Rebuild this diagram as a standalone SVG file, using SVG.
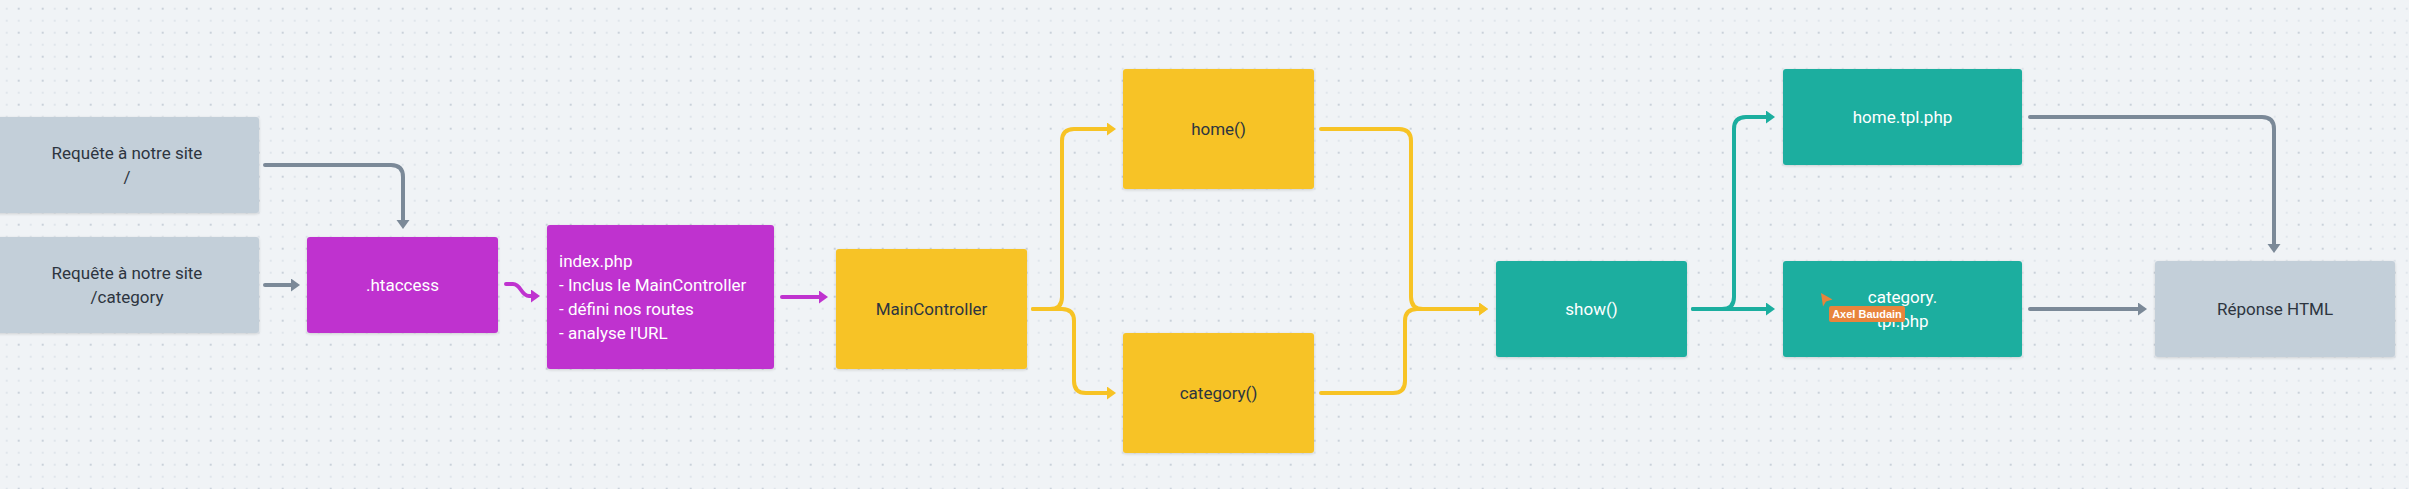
<svg xmlns="http://www.w3.org/2000/svg" width="2409" height="489" viewBox="0 0 2409 489">
<style>
.node{filter:url(#sh)}
.gray{fill:#c3cfd9}
.mag{fill:#bf33cf}
.yel{fill:#f7c325}
.teal{fill:#1bae9f}
text{font-family:Roboto,"Liberation Sans",Arial,sans-serif;font-size:17px}
.dk{fill:#2d3540}
.wt{fill:#ffffff}
.c{text-anchor:middle}
.ln{fill:none;stroke-width:4;stroke-linecap:round;stroke-linejoin:round}
.lg{stroke:#7b8998}
.lm{stroke:#bf33cf}
.ly{stroke:#f7c325}
.lt{stroke:#1bae9f}
</style>
<defs>
<pattern id="dots" patternUnits="userSpaceOnUse" width="24" height="24">
<rect x="5.7" y="7.7" width="2" height="2" fill="#dfe5eb"/>
<rect x="17.7" y="7.7" width="2" height="2" fill="#c9d1da"/>
<rect x="5.7" y="19.7" width="2" height="2" fill="#dfe5eb"/>
<rect x="17.7" y="19.7" width="2" height="2" fill="#dfe5eb"/>
</pattern>
<filter id="sh" x="-10%" y="-10%" width="120%" height="130%">
<feDropShadow dx="0" dy="1" stdDeviation="1.5" flood-color="#000" flood-opacity="0.15"/>
</filter>
<marker id="mg" markerUnits="userSpaceOnUse" markerWidth="10" markerHeight="14" refX="0" refY="6.5" orient="auto"><path d="M0,0 L9,6.5 L0,13 z" fill="#7b8998"/></marker>
<marker id="mm" markerUnits="userSpaceOnUse" markerWidth="10" markerHeight="14" refX="0" refY="6.5" orient="auto"><path d="M0,0 L9,6.5 L0,13 z" fill="#bf33cf"/></marker>
<marker id="my" markerUnits="userSpaceOnUse" markerWidth="10" markerHeight="14" refX="0" refY="6.5" orient="auto"><path d="M0,0 L9,6.5 L0,13 z" fill="#f7c325"/></marker>
<marker id="mt" markerUnits="userSpaceOnUse" markerWidth="10" markerHeight="14" refX="0" refY="6.5" orient="auto"><path d="M0,0 L9,6.5 L0,13 z" fill="#1bae9f"/></marker>
</defs>
<rect width="2409" height="489" fill="#f0f3f6"/>
<rect width="2409" height="489" fill="url(#dots)"/>

<g id="connectors">
<path class="ln lg" d="M265,165 H391 Q403,165 403,177 V220" marker-end="url(#mg)"/>
<path class="ln lg" d="M265,285 H291" marker-end="url(#mg)"/>
<path class="ln lm" d="M506,284 H513 C521,284 521,296 529,296 H531" marker-end="url(#mm)"/>
<path class="ln lm" d="M782,297 H819" marker-end="url(#mm)"/>
<path class="ln ly" d="M1033,309 H1050 Q1062,309 1062,297 V141 Q1062,129 1074,129 H1107" marker-end="url(#my)"/>
<path class="ln ly" d="M1033,309 H1062 Q1074,309 1074,321 V381 Q1074,393 1086,393 H1107" marker-end="url(#my)"/>
<path class="ln ly" d="M1321,129 H1399 Q1411,129 1411,141 V297 Q1411,309 1423,309 H1479" marker-end="url(#my)"/>
<path class="ln ly" d="M1321,393 H1393 Q1405,393 1405,381 V321 Q1405,309 1417,309 H1479" marker-end="url(#my)"/>
<path class="ln lt" d="M1693,309 H1766" marker-end="url(#mt)"/>
<path class="ln lt" d="M1693,309 H1722 Q1734,309 1734,297 V129 Q1734,117 1746,117 H1766" marker-end="url(#mt)"/>
<path class="ln lg" d="M2030,117 H2262 Q2274,117 2274,129 V244" marker-end="url(#mg)"/>
<path class="ln lg" d="M2030,309 H2138" marker-end="url(#mg)"/>
</g>

<g id="req-root">
<rect class="node gray" x="-5" y="117" width="264" height="96" rx="3"/>
<text class="dk c" x="127" y="159">Requête à notre site</text>
<text class="dk c" x="127" y="183">/</text>
</g>
<g id="req-category">
<rect class="node gray" x="-5" y="237" width="264" height="96" rx="3"/>
<text class="dk c" x="127" y="279">Requête à notre site</text>
<text class="dk c" x="127" y="303">/category</text>
</g>
<g id="htaccess">
<rect class="node mag" x="307" y="237" width="191" height="96" rx="3"/>
<text class="wt c" x="402.5" y="291">.htaccess</text>
</g>
<g id="index-php">
<rect class="node mag" x="547" y="225" width="227" height="144" rx="3"/>
<text class="wt" x="559" y="267">index.php</text>
<text class="wt" x="559" y="291">- Inclus le MainController</text>
<text class="wt" x="559" y="315">- défini nos routes</text>
<text class="wt" x="559" y="339">- analyse l'URL</text>
</g>
<g id="maincontroller">
<rect class="node yel" x="836" y="249" width="191" height="120" rx="3"/>
<text class="dk c" x="931.5" y="315">MainController</text>
</g>
<g id="home">
<rect class="node yel" x="1123" y="69" width="191" height="120" rx="3"/>
<text class="dk c" x="1218.5" y="135">home()</text>
</g>
<g id="category">
<rect class="node yel" x="1123" y="333" width="191" height="120" rx="3"/>
<text class="dk c" x="1218.5" y="399">category()</text>
</g>
<g id="show">
<rect class="node teal" x="1496" y="261" width="191" height="96" rx="3"/>
<text class="wt c" x="1591.5" y="315">show()</text>
</g>
<g id="home-tpl">
<rect class="node teal" x="1783" y="69" width="239" height="96" rx="3"/>
<text class="wt c" x="1902.5" y="123">home.tpl.php</text>
</g>
<g id="category-tpl">
<rect class="node teal" x="1783" y="261" width="239" height="96" rx="3"/>
<text class="wt c" x="1902.5" y="303">category.</text>
<text class="wt c" x="1902.5" y="327">tpl.php</text>
</g>
<g id="reponse-html">
<rect class="node gray" x="2155" y="261" width="240" height="96" rx="3"/>
<text class="dk c" x="2275" y="315">Réponse HTML</text>
</g>

<g id="cursor">
<polygon points="1821,293 1832.5,299.5 1826,301.5 1823,306.5" fill="#e8843c"/>
<rect x="1829" y="306" width="76" height="16" rx="2" fill="#e8843c"/>
<text x="1867" y="318" text-anchor="middle" style="font-family:'Liberation Sans',Arial,sans-serif;font-size:11px;font-weight:bold" fill="#ffffff">Axel Baudain</text>
</g>
</svg>
